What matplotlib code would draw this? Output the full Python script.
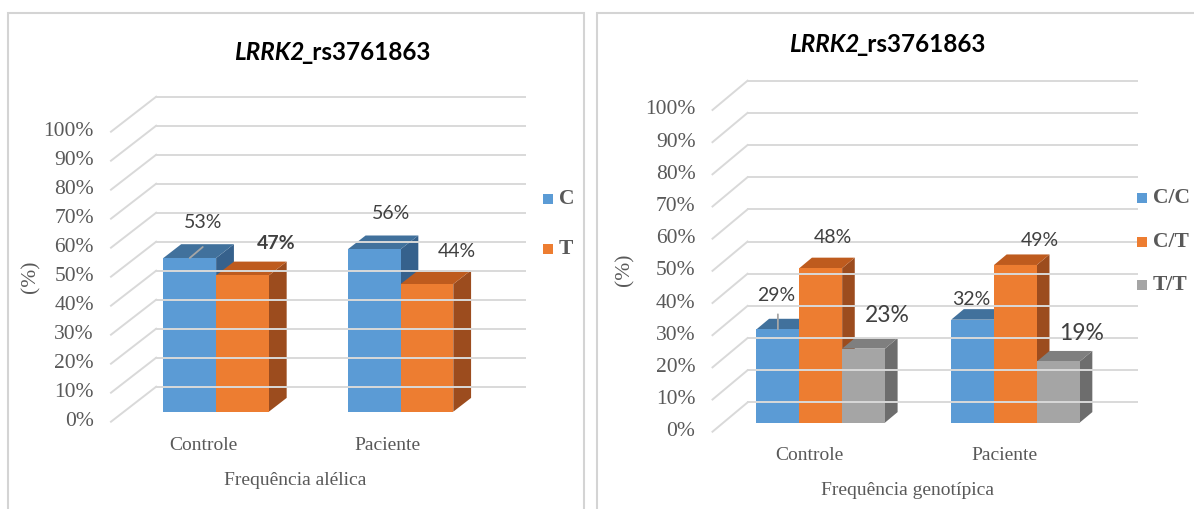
import matplotlib.pyplot as plt
from matplotlib.patches import Polygon, Rectangle

W, H = 1194, 509

groups = ['Controle', 'Paciente']
ticks = list(range(0, 101, 10))

# frequência alélica (%)
allele_names = ['C', 'T']
allele_c = [53, 56]
allele_t = [47, 44]

# frequência genotípica (%)
geno_names = ['C/C', 'C/T', 'T/T']
geno_cc = [29, 32]
geno_ct = [48, 49]
geno_tt = [23, 19]

# front / top / side colours of each column
blue = ('#5B9BD5', '#41719C', '#36618C')
orange = ('#ED7D31', '#BE5B1E', '#9C4C1E')
gray = ('#A5A5A5', '#7F7F7F', '#6D6D6D')

grid_col = '#D9D9D9'
tick_col = '#595959'
label_col = '#404040'
serif = 'Liberation Serif'
sans = 'Lato'

fig = plt.figure(figsize=(W / 100, H / 100), dpi=100)


def px_axes(left, top, right, bottom):
    return fig.add_axes([left / W, 1 - bottom / H, (right - left) / W, (bottom - top) / H])


def draw_panel(ax, series, shades, bw, dx, dy, z0, z1, offsets, sizes, weights):
    def proj(x, y, z):
        return x + z * dx, y + z * dy

    ax.set_xlim(-0.5, 1.5 + dx)
    ax.set_ylim(0, 100 + dy)
    ax.axis('off')

    # back wall and left side grid
    for v in ticks:
        a, b = proj(-0.5, v, 1), proj(1.5, v, 1)
        ax.plot([a[0], b[0]], [a[1], b[1]], color=grid_col, lw=1.4, clip_on=False)
        c = proj(-0.5, v, 0)
        ax.plot([c[0], a[0]], [c[1], a[1]], color=grid_col, lw=1.4, clip_on=False)
        ax.annotate(f'{v}%', xy=c, xytext=(-17, 0), textcoords='offset pixels',
                    ha='right', va='center', fontsize=15.5, color=tick_col,
                    family=serif, annotation_clip=False)

    n = len(series)
    for g in range(len(groups)):
        for i, vals in enumerate(series):
            front, top, side = shades[i]
            h = vals[g]
            x0 = g - n * bw / 2 + i * bw
            x1 = x0 + bw
            ax.add_patch(Polygon([proj(x1, 0, z0), proj(x1, 0, z1), proj(x1, h, z1), proj(x1, h, z0)],
                                 closed=True, facecolor=side, edgecolor='none', clip_on=False))
            ax.add_patch(Polygon([proj(x0, h, z0), proj(x1, h, z0), proj(x1, h, z1), proj(x0, h, z1)],
                                 closed=True, facecolor=top, edgecolor='none', clip_on=False))
            ax.add_patch(Polygon([proj(x0, 0, z0), proj(x1, 0, z0), proj(x1, h, z0), proj(x0, h, z0)],
                                 closed=True, facecolor=front, edgecolor='none', clip_on=False))
            zm = (z0 + z1) / 2
            ax.annotate(f'{h}%', xy=proj((x0 + x1) / 2, h, zm), xytext=offsets[i][g],
                        textcoords='offset pixels', ha='center', va='center',
                        fontsize=sizes[i][g], fontweight=weights[i][g], color=label_col,
                        family=sans, annotation_clip=False)

    for g, name in enumerate(groups):
        ax.annotate(name, xy=proj(g, 0, 0), xytext=(0, -24), textcoords='offset pixels',
                    ha='center', va='center', fontsize=14, color=tick_col, family=serif,
                    annotation_clip=False)
    return proj


def leader(ax, proj, x, h, z, off):
    ax.annotate('', xy=proj(x, h, z), xytext=off, textcoords='offset pixels',
                arrowprops=dict(arrowstyle='-', color='#A6A6A6', lw=1.3, shrinkA=0, shrinkB=0),
                annotation_clip=False)


def title(x_split, y):
    fig.text(x_split / W, 1 - y / H, 'LRRK2', ha='right', va='center',
             fontsize=17.5, fontweight='bold', style='italic', family=sans)
    fig.text((x_split - 3) / W, 1 - y / H, '_rs3761863', ha='left', va='center',
             fontsize=17.5, fontweight='bold', family=sans)


def legend(x_box, x_text, ys, names, shades):
    for y, name, sh in zip(ys, names, shades):
        fig.add_artist(Rectangle((x_box / W, 1 - (y + 5) / H), 10 / W, 10 / H,
                                 transform=fig.transFigure, facecolor=sh[0], edgecolor='none'))
        fig.text(x_text / W, 1 - y / H, name, ha='left', va='center', fontsize=15.5,
                 fontweight='bold', color=tick_col, family=serif)


# panel frames
fig.add_artist(Rectangle((8 / W, 1 - 520 / H), 576 / W, 507 / H, transform=fig.transFigure,
                         facecolor='none', edgecolor='#D4D4D4', lw=1.5))
fig.add_artist(Rectangle((597 / W, 1 - 520 / H), 610 / W, 507 / H, transform=fig.transFigure,
                         facecolor='none', edgecolor='#D4D4D4', lw=1.5))

# left: allele frequency
ax1 = px_axes(111, 96.7, 525, 421.7)
p1 = draw_panel(ax1, [allele_c, allele_t], [blue, orange], 0.286, 0.245, 12.07, 0.286, 0.68,
                offsets=[[(4, 29), (8, 29)], [(25, 25), (21, 26)]],
                sizes=[[14, 14], [14, 14]],
                weights=[['normal', 'normal'], ['bold', 'normal']])
leader(ax1, p1, -0.143, allele_c[0], 0.286, (13, 11))
ax1.annotate('Frequência alélica', xy=(0.5, 0), xytext=(0, -59), textcoords='offset pixels',
             ha='center', va='center', fontsize=14, color=tick_col, family=serif,
             annotation_clip=False)
fig.text(30.6 / W, 1 - 276.7 / H, '(%)', rotation=90, ha='center', va='center',
         fontsize=15.5, color=tick_col, family=serif)
title(304, 52.5)
legend(543, 559, [199, 249.3], allele_names, [blue, orange])

# right: genotype frequency
ax2 = px_axes(712.5, 80.7, 1137, 431.7)
p2 = draw_panel(ax2, [geno_cc, geno_ct, geno_tt], [blue, orange, gray], 0.22, 0.18, 9.1, 0.31, 0.67,
                offsets=[[(-8, 29), (-8, 15)], [(6, 25), (18, 19)], [(17, 28), (17, 23)]],
                sizes=[[14, 14], [14, 14], [16.5, 16.5]],
                weights=[['normal'] * 2, ['normal'] * 2, ['normal'] * 2])
leader(ax2, p2, -0.22, geno_cc[0], 0.31, (0, 15))
ax2.annotate('Frequência genotípica', xy=(0.5, 0), xytext=(0, -59), textcoords='offset pixels',
             ha='center', va='center', fontsize=14, color=tick_col, family=serif,
             annotation_clip=False)
fig.text(624.6 / W, 1 - 270 / H, '(%)', rotation=90, ha='center', va='center',
         fontsize=15.5, color=tick_col, family=serif)
title(859, 44)
legend(1137, 1153, [198.3, 241.7, 285], geno_names, [blue, orange, gray])

fig.savefig('out.png', dpi=100, facecolor='white')
